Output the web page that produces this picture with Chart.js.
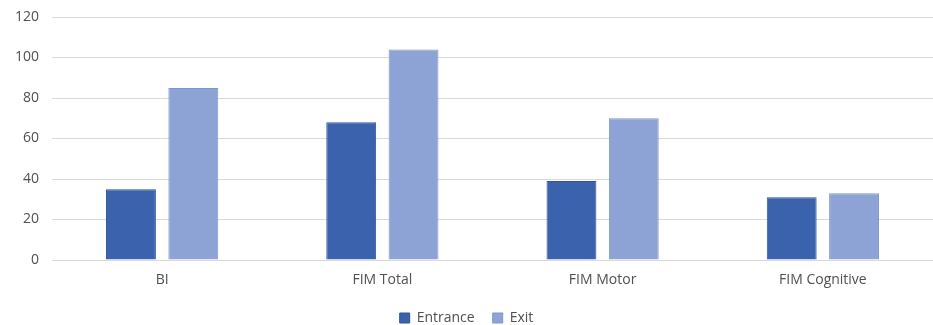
<!DOCTYPE html>
<html>
<head>
<meta charset="utf-8">
<script src="https://cdn.jsdelivr.net/npm/chart.js@4/dist/chart.umd.min.js"></script>
<style>
  html, body { margin: 0; padding: 0; background: #ffffff; }
  #wrap { width: 933px; height: 325px; position: relative; }
</style>
</head>
<body>
<div id="wrap"><canvas id="c"></canvas></div>
<script>
// Assessment scores at entrance and exit
const categories = ['BI', 'FIM Total', 'FIM Motor', 'FIM Cognitive'];
const entrance = [35, 68, 39, 31];
const exitScores = [85, 104, 70, 33];
const yTicks = [0, 20, 40, 60, 80, 100, 120];

const labelFont = { family: "'Open Sans', 'Liberation Sans', sans-serif", size: 14 };
const labelColor = '#505050';

new Chart(document.getElementById('c'), {
  type: 'bar',
  data: {
    labels: categories,
    datasets: [
      {
        label: 'Entrance',
        data: entrance,
        backgroundColor: '#3B62AC',
        borderColor: '#30549A',
        borderWidth: 1,
        borderSkipped: 'bottom'
      },
      {
        label: 'Exit',
        data: exitScores,
        backgroundColor: '#8EA3D5',
        borderColor: '#8096C8',
        borderWidth: 1,
        borderSkipped: 'bottom'
      }
    ]
  },
  options: {
    responsive: true,
    maintainAspectRatio: false,
    animation: false,
    devicePixelRatio: 1,
    categoryPercentage: 0.566,
    barPercentage: 0.8,
    layout: { padding: { top: 17, right: 0, bottom: -10, left: 0 } },
    plugins: {
      tooltip: { enabled: false },
      legend: {
        position: 'bottom',
        labels: {
          font: labelFont,
          color: labelColor,
          boxWidth: 10,
          boxHeight: 10,
          padding: 18
        }
      }
    },
    scales: {
      x: {
        grid: { display: false, drawTicks: false },
        border: { display: false },
        afterFit: (scale) => { scale.height = 33; },
        ticks: { font: labelFont, color: labelColor, padding: 12 }
      },
      y: {
        min: 0,
        max: 120,
        afterFit: (scale) => {
          scale.width = 52;
          scale.paddingTop = 0;
          scale.paddingBottom = 0;
        },
        afterBuildTicks: (scale) => { scale.ticks = yTicks.map(v => ({ value: v })); },
        grid: { color: '#D9D9D9', lineWidth: 1, drawTicks: false },
        border: { display: false },
        ticks: { font: labelFont, color: labelColor, padding: 13 }
      }
    }
  }
});
</script>
</body>
</html>
